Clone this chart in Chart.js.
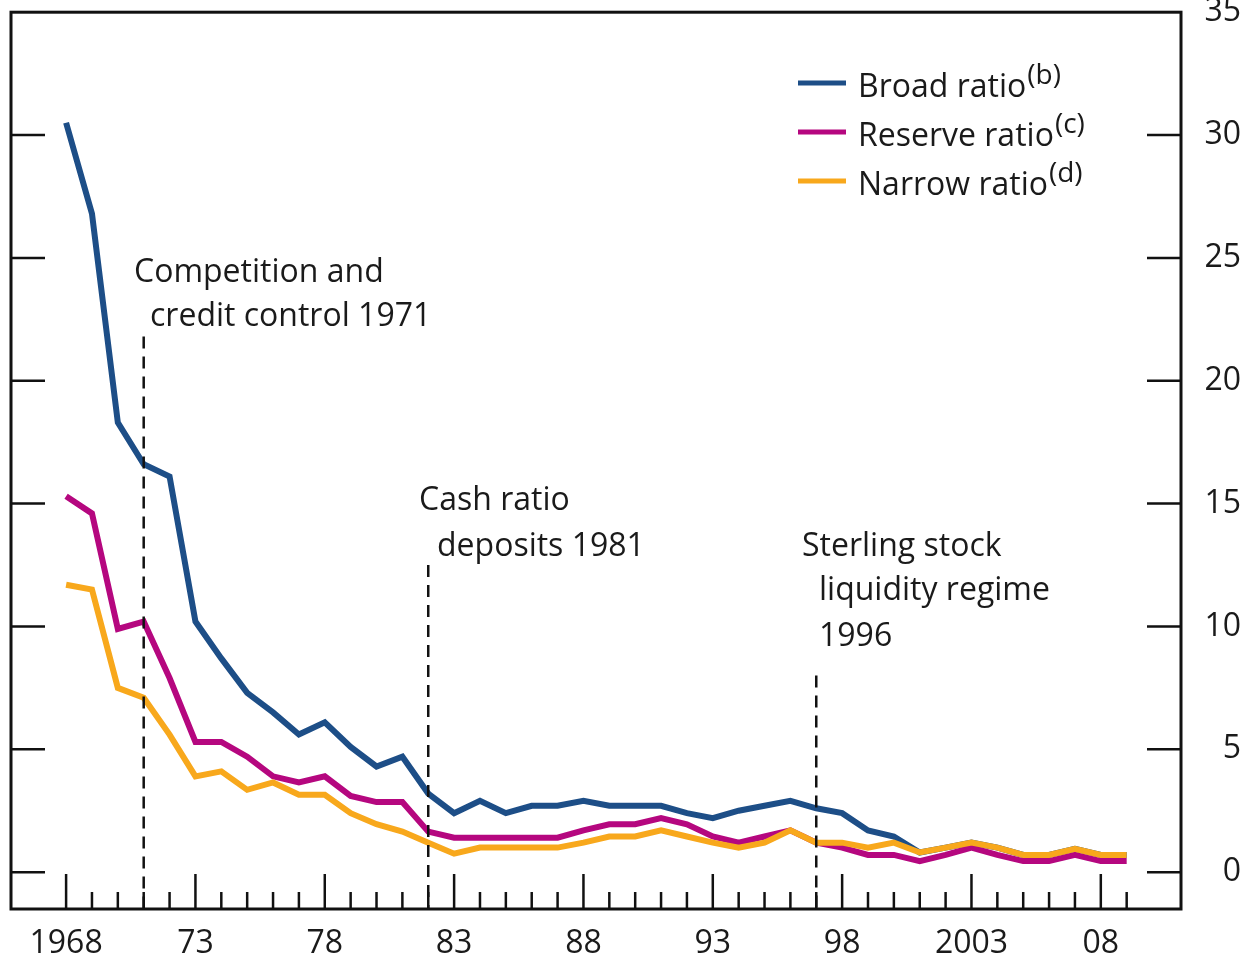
<!DOCTYPE html>
<html>
<head>
<meta charset="utf-8">
<script src="https://cdn.jsdelivr.net/npm/chart.js@4"></script>
<style>
  body { margin: 0; background: #fff; overflow: hidden; }
  canvas { display: block; margin-top: -21px; }
</style>
</head>
<body>
<canvas id="ratioChart" width="1249" height="982"></canvas>
<script>
// Sample data: liquidity ratios, per cent
const years = [1968, 1969, 1970, 1971, 1972, 1973, 1974, 1975, 1976, 1977,
  1978, 1979, 1980, 1981, 1982, 1983, 1984, 1985, 1986, 1987,
  1988, 1989, 1990, 1991, 1992, 1993, 1994, 1995, 1996, 1997,
  1998, 1999, 2000, 2001, 2002, 2003, 2004, 2005, 2006, 2007, 2008, 2009];

const broadRatio = [30.5, 26.8, 18.3, 16.6, 16.1, 10.2, 8.7, 7.3, 6.5, 5.6,
  6.1, 5.1, 4.3, 4.7, 3.2, 2.4, 2.9, 2.4, 2.7, 2.7,
  2.9, 2.7, 2.7, 2.7, 2.4, 2.2, 2.5, 2.7, 2.9, 2.6,
  2.4, 1.7, 1.45, 0.8, 1.0, 1.2, 1.0, 0.7, 0.7, 0.95, 0.7, 0.7];

const reserveRatio = [15.3, 14.6, 9.9, 10.2, 7.9, 5.3, 5.3, 4.7, 3.9, 3.65,
  3.9, 3.1, 2.85, 2.85, 1.65, 1.4, 1.4, 1.4, 1.4, 1.4,
  1.7, 1.95, 1.95, 2.2, 1.95, 1.45, 1.2, 1.45, 1.7, 1.2,
  1.0, 0.7, 0.7, 0.45, 0.7, 1.0, 0.7, 0.45, 0.45, 0.7, 0.45, 0.45];

const narrowRatio = [11.7, 11.5, 7.5, 7.1, 5.6, 3.9, 4.1, 3.35, 3.65, 3.15,
  3.15, 2.4, 1.95, 1.65, 1.2, 0.75, 1.0, 1.0, 1.0, 1.0,
  1.2, 1.45, 1.45, 1.7, 1.45, 1.2, 1.0, 1.2, 1.7, 1.2,
  1.2, 1.0, 1.2, 0.8, 1.0, 1.2, 1.0, 0.7, 0.7, 0.95, 0.7, 0.7];

const xLabelYears = [1968, 1973, 1978, 1983, 1988, 1993, 1998, 2003, 2008];
const xLabelTexts = ['1968', '73', '78', '83', '88', '93', '98', '2003', '08'];
const yTicks = [0, 5, 10, 15, 20, 25, 30, 35];

// policy events: dashed line year and how high it reaches
const eventYears = [1971, 1982, 1997];
const eventTops = [21.8, 12.5, 8.0];

const FONT = "'Open Sans', 'Noto Sans', sans-serif";
const TEXT = '#1a1a1a';
const SHIFT = 21; // canvas is moved up by this much

const blue = '#1d4e87';
const magenta = '#b5077f';
const orange = '#f8a81c';

function pts(values) {
  return years.map((yr, i) => ({ x: yr, y: values[i] }));
}

// frame, inward tick marks, event lines, notes and legend
const decorations = {
  id: 'decorations',
  afterDatasetsDraw(chart) {
    const ctx = chart.ctx;
    const ca = chart.chartArea;
    const xs = chart.scales.x;
    const ys = chart.scales.y;
    ctx.save();
    ctx.strokeStyle = '#111';
    ctx.lineCap = 'butt';

    // ticks
    ctx.lineWidth = 2.5;
    yTicks.forEach(v => {
      if (v === 35) return;
      const py = ys.getPixelForValue(v);
      ctx.beginPath();
      ctx.moveTo(ca.left, py); ctx.lineTo(ca.left + 34, py);
      ctx.moveTo(ca.right - 34, py); ctx.lineTo(ca.right, py);
      ctx.stroke();
    });
    years.forEach(yr => {
      const px = xs.getPixelForValue(yr);
      const len = (yr - 1968) % 5 === 0 ? 35 : 17;
      ctx.beginPath();
      ctx.moveTo(px, ca.bottom); ctx.lineTo(px, ca.bottom - len);
      ctx.stroke();
    });

    // dashed event lines
    ctx.setLineDash([12, 8]);
    eventYears.forEach((yr, i) => {
      const px = xs.getPixelForValue(yr);
      ctx.beginPath();
      ctx.moveTo(px, ys.getPixelForValue(eventTops[i]));
      ctx.lineTo(px, ca.bottom);
      ctx.stroke();
    });
    ctx.setLineDash([]);

    // frame
    ctx.lineWidth = 3;
    ctx.strokeRect(ca.left, ca.top, ca.right - ca.left, ca.bottom - ca.top);

    // notes
    ctx.translate(0, SHIFT);
    ctx.fillStyle = TEXT;
    ctx.font = '32px ' + FONT;
    ctx.textBaseline = 'alphabetic';
    ctx.textAlign = 'left';
    ctx.fillText('Competition and', 134, 282);
    ctx.fillText('credit control 1971', 150, 326);
    ctx.fillText('Cash ratio', 419, 510);
    ctx.fillText('deposits 1981', 437, 556);
    ctx.fillText('Sterling stock', 802, 556);
    ctx.fillText('liquidity regime', 819, 600);
    ctx.fillText('1996', 819, 646);

    // legend
    const items = [
      ['Broad ratio', '(b)', blue],
      ['Reserve ratio', '(c)', magenta],
      ['Narrow ratio', '(d)', orange]
    ];
    items.forEach((it, i) => {
      const base = 97 + i * 49;
      ctx.strokeStyle = it[2];
      ctx.lineWidth = 5;
      ctx.beginPath();
      ctx.moveTo(798, base - 14); ctx.lineTo(846, base - 14);
      ctx.stroke();
      ctx.font = '32px ' + FONT;
      ctx.fillText(it[0], 858, base);
      const w = ctx.measureText(it[0]).width;
      ctx.font = '28px ' + FONT;
      ctx.fillText(it[1], 858 + w + 1, base - 13);
    });
    ctx.restore();
  }
};

new Chart(document.getElementById('ratioChart').getContext('2d'), {
  type: 'line',
  data: {
    datasets: [
      { label: 'Narrow ratio', data: pts(narrowRatio), borderColor: orange, order: 1 },
      { label: 'Reserve ratio', data: pts(reserveRatio), borderColor: magenta, order: 2 },
      { label: 'Broad ratio', data: pts(broadRatio), borderColor: blue, order: 3 }
    ]
  },
  options: {
    responsive: false,
    animation: false,
    layout: { padding: { left: 11, right: 8, top: 0, bottom: 0 } },
    elements: {
      line: { borderWidth: 6, tension: 0, borderJoinStyle: 'miter' },
      point: { radius: 0 }
    },
    plugins: { legend: { display: false }, tooltip: { enabled: false } },
    scales: {
      x: {
        type: 'linear',
        min: 1965.87,
        max: 2011.1,
        grid: { display: false, drawTicks: false },
        border: { display: false },
        afterBuildTicks: s => { s.ticks = years.map(v => ({ value: v })); },
        afterFit: s => { s.height = 52; },
        ticks: {
          autoSkip: false,
          maxRotation: 0,
          padding: 16,
          color: TEXT,
          font: { family: FONT, size: 32 },
          callback: v => {
            const i = xLabelYears.indexOf(v);
            return i < 0 ? '' : xLabelTexts[i];
          }
        }
      },
      y: {
        position: 'right',
        min: -1.5,
        max: 35,
        grid: { display: false, drawTicks: false },
        border: { display: false },
        afterBuildTicks: s => { s.ticks = yTicks.map(v => ({ value: v })); },
        afterFit: s => { s.width = 60; },
        ticks: {
          padding: 22,
          crossAlign: 'far',
          color: TEXT,
          font: { family: FONT, size: 32, lineHeight: 0.7 }
        }
      }
    }
  },
  plugins: [decorations]
});
</script>
</body>
</html>
